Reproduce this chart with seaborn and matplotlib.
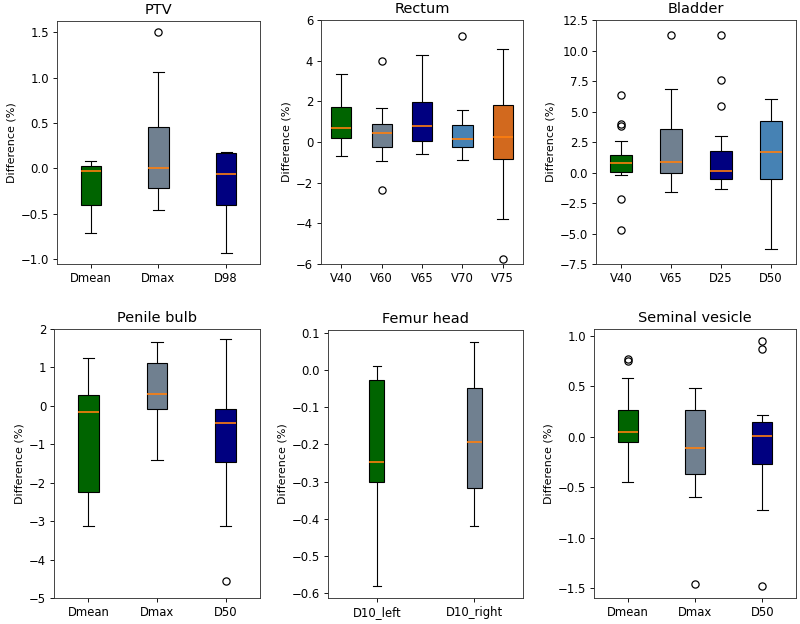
import numpy as np
import pandas as pd
import matplotlib
matplotlib.use("Agg")
import matplotlib.pyplot as plt
import seaborn as sns

# ---------------- data (box statistics) ----------------
ptv_labels = ["Dmean", "Dmax", "D98"]
ptv_whislo = [-0.71, -0.46, -0.93]
ptv_q1 = [-0.40, -0.22, -0.405]
ptv_med = [-0.025, 0.007, -0.058]
ptv_q3 = [0.022, 0.455, 0.171]
ptv_whishi = [0.08, 1.062, 0.18]
ptv_fliers = [[], [1.50], []]

rectum_labels = ["V40", "V60", "V65", "V70", "V75"]
rectum_whislo = [-0.67, -0.92, -0.57, -0.87, -3.78]
rectum_q1 = [0.18, -0.245, 0.03, -0.26, -0.83]
rectum_med = [0.69, 0.43, 0.80, 0.13, 0.26]
rectum_q3 = [1.70, 0.88, 1.98, 0.83, 1.83]
rectum_whishi = [3.34, 1.65, 4.30, 1.57, 4.55]
rectum_fliers = [[], [3.99, -2.37], [], [5.20], [-5.74]]

bladder_labels = ["V40", "V65", "D25", "D50"]
bladder_whislo = [-0.19, -1.56, -1.39, -6.28]
bladder_q1 = [0.05, 0.0, -0.52, -0.55]
bladder_med = [0.79, 0.85, 0.14, 1.66]
bladder_q3 = [1.45, 3.55, 1.80, 4.20]
bladder_whishi = [2.59, 6.85, 2.97, 6.00]
bladder_fliers = [[6.33, 3.96, 3.82, -2.21, -4.72], [11.27], [11.27, 7.61, 5.43], []]

penile_labels = ["Dmean", "Dmax", "D50"]
penile_whislo = [-3.13, -1.41, -3.13]
penile_q1 = [-2.25, -0.07, -1.46]
penile_med = [-0.17, 0.30, -0.44]
penile_q3 = [0.29, 1.12, -0.08]
penile_whishi = [1.254, 1.67, 1.74]
penile_fliers = [[], [], [-4.57]]

femur_labels = ["D10_left", "D10_right"]
femur_whislo = [-0.58, -0.42]
femur_q1 = [-0.301, -0.317]
femur_med = [-0.248, -0.193]
femur_q3 = [-0.027, -0.047]
femur_whishi = [0.0097, 0.075]
femur_fliers = [[], []]

seminal_labels = ["Dmean", "Dmax", "D50"]
seminal_whislo = [-0.447, -0.59, -0.724]
seminal_q1 = [-0.053, -0.368, -0.263]
seminal_med = [0.049, -0.112, 0.007]
seminal_q3 = [0.266, 0.27, 0.145]
seminal_whishi = [0.58, 0.48, 0.214]
seminal_fliers = [[0.77, 0.755], [-1.46], [0.948, 0.872, -1.474]]

box_colors = ["#006400", "#708090", "#000080", "#4682B4", "#D2691E"]


def long_table(labels, whislo, q1, med, q3, whishi, fliers, reps=20):
    """Sample table whose quartiles, whisker ends and outliers equal the given stats."""
    rows = []
    for lab, lo, a, m, b, hi, fl in zip(labels, whislo, q1, med, q3, whishi, fliers):
        vals = list(fl) + [lo, hi] + [a] * reps + [m] * reps + [b] * reps
        rows += [(lab, v) for v in vals]
    return pd.DataFrame(rows, columns=["measure", "diff"])


panels = [
    ("PTV", long_table(ptv_labels, ptv_whislo, ptv_q1, ptv_med, ptv_q3, ptv_whishi, ptv_fliers), ptv_labels, None),
    ("Rectum", long_table(rectum_labels, rectum_whislo, rectum_q1, rectum_med, rectum_q3, rectum_whishi, rectum_fliers), rectum_labels, (-6, 6)),
    ("Bladder", long_table(bladder_labels, bladder_whislo, bladder_q1, bladder_med, bladder_q3, bladder_whishi, bladder_fliers), bladder_labels, (-7.5, 12.5)),
    ("Penile bulb", long_table(penile_labels, penile_whislo, penile_q1, penile_med, penile_q3, penile_whishi, penile_fliers), penile_labels, (-5, 2)),
    ("Femur head", long_table(femur_labels, femur_whislo, femur_q1, femur_med, femur_q3, femur_whishi, femur_fliers), femur_labels, None),
    ("Seminal vesicle", long_table(seminal_labels, seminal_whislo, seminal_q1, seminal_med, seminal_q3, seminal_whishi, seminal_fliers), seminal_labels, None),
]

# axes boxes in pixels: left, right, top, bottom (figure is 800 x 624)
boxes_px = [
    (57, 260, 21, 264), (321, 523, 20, 264), (596, 796, 20, 264),
    (54, 260, 329, 598), (328, 523, 330, 598), (594, 796, 329, 598),
]

plt.rcParams["font.family"] = ["DejaVu Sans"]
W, H = 800, 624
fig = plt.figure(figsize=(W / 80, H / 80), dpi=80)

for (l, r, t, b), (title, df, labels, ylim) in zip(boxes_px, panels):
    ax = fig.add_axes([l / W, 1 - b / H, (r - l) / W, (b - t) / H])
    n = len(labels)
    width = min(0.15 * max(n - 1, 1), 0.5)
    pal = dict(zip(labels, box_colors[:n]))
    sns.boxplot(
        data=df, x="measure", y="diff", hue="measure", order=labels, hue_order=labels,
        palette=pal, saturation=1, legend=False, ax=ax, width=width, dodge=False,
        linecolor="black", linewidth=1.0, whis=1.5,
        medianprops=dict(color="#ff7f0e", linewidth=1.5),
        flierprops=dict(marker="o", markerfacecolor="none", markeredgecolor="black",
                        markersize=6.5, markeredgewidth=1.1),
        capwidths=width * 0.55,
    )
    ax.set_title(title, fontsize=13)
    ax.set_xlabel("")
    ax.set_ylabel("Difference (%)", fontsize=10)
    ax.tick_params(labelsize=10.5)
    if ylim is not None:
        ax.set_ylim(*ylim)
    else:
        ax.margins(y=0.05)
    ax.set_xlim(-0.5, n - 0.5)
    for s in ax.spines.values():
        s.set_color("#333333")

fig.savefig("out.png", dpi=80)
